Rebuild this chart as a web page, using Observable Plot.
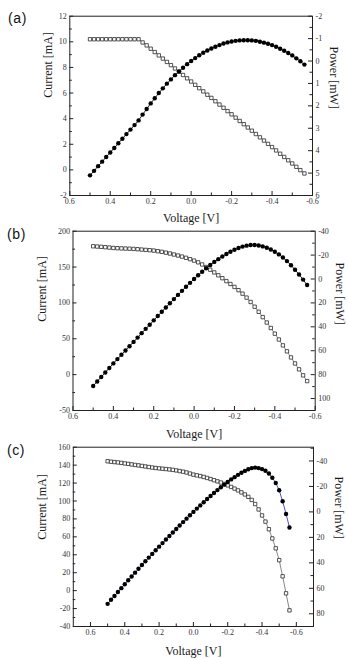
<!DOCTYPE html>
<html>
<head>
<meta charset="utf-8">
<script src="https://cdn.jsdelivr.net/npm/d3@7"></script>
<script src="https://cdn.jsdelivr.net/npm/@observablehq/plot@0.6"></script>
<style>
  body { margin: 0; background: #fff; }
  #fig { position: relative; width: 348px; height: 658px; overflow: hidden; background: #fff; }
  .panel { position: absolute; left: 0; width: 348px; overflow: visible; }
  .panel svg { position: absolute; left: 0; top: 0; overflow: visible; }
  .tag { position: absolute; font-family: "Liberation Sans", Arial, sans-serif; font-size: 14px;
         line-height: 14px; color: #111; letter-spacing: 0.6px; }
</style>
</head>
<body>
<div id="fig"></div>
<script>
// Bias voltage sweep shared by all three cells (V)
const voltage = [
  0.50, 0.48, 0.46, 0.44, 0.42, 0.40, 0.38, 0.36, 0.34, 0.32,
  0.30, 0.28, 0.26, 0.24, 0.22, 0.20, 0.18, 0.16, 0.14, 0.12,
  0.10, 0.08, 0.06, 0.04, 0.02, 0.00, -0.02, -0.04, -0.06, -0.08,
  -0.10, -0.12, -0.14, -0.16, -0.18, -0.20, -0.22, -0.24, -0.26, -0.28,
  -0.30, -0.32, -0.34, -0.36, -0.38, -0.40, -0.42, -0.44, -0.46, -0.48,
  -0.50, -0.52, -0.54, -0.56
];

// (a) current (mA) and power (mW)
const currentA = [
  10.2, 10.2, 10.2, 10.2, 10.2, 10.2, 10.2, 10.2, 10.2, 10.2,
  10.2, 10.2, 10.2, 9.95, 9.72, 9.46, 9.20, 8.94, 8.69, 8.43,
  8.18, 7.92, 7.66, 7.41, 7.15, 6.90, 6.64, 6.38, 6.13, 5.87,
  5.62, 5.36, 5.10, 4.85, 4.59, 4.34, 4.08, 3.82, 3.57, 3.31,
  3.06, 2.80, 2.54, 2.29, 2.03, 1.78, 1.52, 1.26, 1.01, 0.75,
  0.50, 0.24, -0.02, -0.28
];
const powerA = [
  5.10, 4.90, 4.69, 4.49, 4.28, 4.08, 3.88, 3.67, 3.47, 3.26,
  3.06, 2.86, 2.65, 2.39, 2.14, 1.89, 1.66, 1.43, 1.22, 1.01,
  0.82, 0.63, 0.46, 0.30, 0.14, 0.00, -0.13, -0.26, -0.37, -0.47,
  -0.56, -0.64, -0.71, -0.78, -0.83, -0.87, -0.90, -0.92, -0.93, -0.93,
  -0.92, -0.90, -0.86, -0.82, -0.77, -0.71, -0.64, -0.55, -0.46, -0.36,
  -0.25, -0.12, 0.01, 0.16
];

// (b) current (mA) and power (mW)
const currentB = [
  179.0, 178.6, 178.2, 177.7, 177.2, 176.6, 176.3, 176.0, 175.8, 175.6,
  175.3, 174.9, 174.4, 173.9, 173.5, 173.0, 172.1, 171.2, 170.1, 168.9,
  167.5, 166.1, 164.6, 162.9, 161.0, 159.0, 156.6, 153.6, 150.0, 146.3,
  142.5, 138.5, 134.5, 130.4, 126.4, 122.3, 117.8, 112.9, 107.4, 101.3,
  94.7, 87.6, 80.2, 72.7, 65.0, 57.1, 49.0, 40.8, 32.5, 24.0,
  15.6, 7.4, -1.0, -9.0
];
const powerB = [
  89.5, 85.7, 82.0, 78.2, 74.4, 70.6, 67.0, 63.4, 59.8, 56.2,
  52.6, 49.0, 45.3, 41.7, 38.2, 34.6, 31.0, 27.4, 23.8, 20.3,
  16.8, 13.3, 9.9, 6.5, 3.2, 0.0, -3.1, -6.1, -9.0, -11.7,
  -14.3, -16.6, -18.8, -20.9, -22.8, -24.5, -25.9, -27.1, -27.9, -28.4,
  -28.4, -28.0, -27.3, -26.2, -24.7, -22.8, -20.6, -18.0, -15.0, -11.5,
  -7.8, -3.8, 0.5, 5.0
];

// (c) current (mA) and power (mW)
const currentC = [
  144.3, 143.8, 143.4, 143.0, 142.5, 141.9, 141.4, 140.8, 140.2, 139.7,
  139.1, 138.5, 137.9, 137.3, 136.8, 136.4, 136.0, 135.6, 135.2, 134.7,
  134.1, 133.4, 132.7, 131.8, 130.6, 129.4, 128.6, 127.8, 126.8, 125.7,
  124.5, 123.2, 121.9, 120.6, 119.0, 117.4, 115.7, 113.8, 111.8, 109.6,
  107.3, 104.6, 101.2, 96.6, 90.6, 83.9, 77.0, 68.5, 58.2, 47.2,
  34.0, 16.0, -3.0, -22.0
];
const powerC = [
  72.2, 69.0, 66.0, 62.9, 59.9, 56.8, 53.7, 50.7, 47.7, 44.7,
  41.7, 38.8, 35.9, 33.0, 30.1, 27.3, 24.5, 21.7, 18.9, 16.2,
  13.4, 10.7, 8.0, 5.3, 2.6, 0.0, -2.6, -5.1, -7.6, -10.1,
  -12.5, -14.8, -17.1, -19.3, -21.4, -23.5, -25.5, -27.3, -29.1, -30.7,
  -32.2, -33.5, -34.4, -34.8, -34.4, -33.6, -32.3, -30.1, -26.8, -22.7,
  -17.0, -8.3, 1.6, 12.3
];

// Axis ticks and their labels
const voltTicks = [0.6, 0.4, 0.2, 0.0, -0.2, -0.4, -0.6];
const voltLabels = ["0.6", "0.4", "0.2", "0.0", "-0.2", "-0.4", "-0.6"];
const voltMinorAB = [0.5, 0.3, 0.1, -0.1, -0.3, -0.5];
const voltMinorC = [0.5, 0.3, 0.1, -0.1, -0.3, -0.5];

const curTicksA = [12, 10, 8, 6, 4, 2, 0, -2];
const curLabelsA = ["12", "10", "8", "6", "4", "2", "0", "-2"];
const curMinorA = [11, 9, 7, 5, 3, 1, -1];
const powTicksA = [-2, -1, 0, 1, 2, 3, 4, 5, 6];
const powLabelsA = ["-2", "-1", "0", "1", "2", "3", "4", "5", "6"];
const powMinorA = [-1.5, -0.5, 0.5, 1.5, 2.5, 3.5, 4.5, 5.5];

const curTicksB = [200, 150, 100, 50, 0, -50];
const curLabelsB = ["200", "150", "100", "50", "0", "-50"];
const curMinorB = [175, 125, 75, 25, -25];
const powTicksB = [-40, -20, 0, 20, 40, 60, 80, 100];
const powLabelsB = ["-40", "-20", "0", "20", "40", "60", "80", "100"];
const powMinorB = [-30, -10, 10, 30, 50, 70, 90];

const curTicksC = [160, 140, 120, 100, 80, 60, 40, 20, 0, -20, -40];
const curLabelsC = ["160", "140", "120", "100", "80", "60", "40", "20", "0", "-20", "-40"];
const curMinorC = [150, 130, 110, 90, 70, 50, 30, 10, -10, -30];
const powTicksC = [-40, -20, 0, 20, 40, 60, 80];
const powLabelsC = ["-40", "-20", "0", "20", "40", "60", "80"];
const powMinorC = [-50, -30, -10, 10, 30, 50, 70];

const panels = [
  {tag: "(a)", tagLeft: 8, tagTop: 11, top: 0, height: 215,
   mL: 69.3, mR: 36, mT: 15.7, mB: 20,
   xDomain: [0.6, -0.6], xMinor: voltMinorAB,
   iDomain: [-2, 12], pDomain: [-2, 6],
   current: currentA, power: powerA,
   iTicks: curTicksA, iLabels: curLabelsA, iMinor: curMinorA,
   pTicks: powTicksA, pLabels: powLabelsA, pMinor: powMinorA,
   xTitleDy: 22.5, iTitleDx: -21.3, iTitleDy: -8, pTitleDx: 21, pTitleDy: 3,
   pLine: "#111"},
  {tag: "(b)", tagLeft: 7, tagTop: 226.5, top: 215, height: 215,
   mL: 72.5, mR: 33.3, mT: 15.7, mB: 20,
   xDomain: [0.6, -0.6], xMinor: voltMinorAB,
   iDomain: [-50, 200], pDomain: [-40, 110],
   current: currentB, power: powerB,
   iTicks: curTicksB, iLabels: curLabelsB, iMinor: curMinorB,
   pTicks: powTicksB, pLabels: powLabelsB, pMinor: powMinorB,
   xTitleDy: 23.5, iTitleDx: -31, iTitleDy: 1, pTitleDx: 25, pTitleDy: 4,
   pLine: "#111"},
  {tag: "(c)", tagLeft: 7, tagTop: 442.5, top: 430, height: 228,
   mL: 72.8, mR: 35, mT: 16.7, mB: 32,
   xDomain: [0.7, -0.7], xMinor: voltMinorC,
   iDomain: [-40, 160], pDomain: [-50.8, 90],
   current: currentC, power: powerC,
   iTicks: curTicksC, iLabels: curLabelsC, iMinor: curMinorC,
   pTicks: powTicksC, pLabels: powLabelsC, pMinor: powMinorC,
   xTitleDy: 24.5, iTitleDx: -31, iTitleDy: 3, pTitleDx: 25, pTitleDy: 2,
   pLine: "#3c3cc8"}
];

const serif = "'Liberation Serif', 'Times New Roman', serif";
const fig = document.getElementById("fig");

function labeler(ticks, labels) {
  return d => labels[ticks.indexOf(d)];
}

for (const c of panels) {
  const rows = voltage.map((v, k) => ({v, i: c.current[k], p: c.power[k]}));
  const fw = 348 - c.mL - c.mR;
  const fh = c.height - c.mT - c.mB;
  const base = {
    width: 348, height: c.height,
    marginLeft: c.mL, marginRight: c.mR, marginTop: c.mT, marginBottom: c.mB,
    style: {background: "transparent", fontFamily: serif, fontSize: "8px", color: "#333", overflow: "visible"}
  };
  const titleStyle = {fontFamily: serif, fontSize: 12, fill: "#1a1a1a", lineAnchor: "middle", text: d => d};

  // Current against the left axis, with the voltage axis
  const currentPlot = Plot.plot({
    ...base,
    x: {domain: c.xDomain, axis: null},
    y: {domain: c.iDomain, axis: null},
    marks: [
      Plot.line(rows, {x: "v", y: "i", stroke: "#555", strokeWidth: 0.7}),
      Plot.dot(rows, {x: "v", y: "i", symbol: "square", r: 1.9, fill: "white", stroke: "#2a2a2a", strokeWidth: 0.8}),
      Plot.tickX(voltTicks, {x: d => d, insetTop: fh - 4, stroke: "#222"}),
      Plot.tickX(c.xMinor, {x: d => d, insetTop: fh - 2.5, stroke: "#222"}),
      Plot.tickY(c.iTicks, {y: d => d, insetRight: fw - 4, stroke: "#222"}),
      Plot.tickY(c.iMinor, {y: d => d, insetRight: fw - 2.5, stroke: "#222"}),
      Plot.axisX(voltTicks, {tickSize: 0, tickPadding: 3, tickFormat: labeler(voltTicks, voltLabels), label: null}),
      Plot.axisY(c.iTicks, {anchor: "left", tickSize: 0, tickPadding: 3, tickFormat: labeler(c.iTicks, c.iLabels), label: null}),
      Plot.frame({stroke: "#222"}),
      Plot.text(["Voltage [V]"], {...titleStyle, frameAnchor: "bottom", dy: c.xTitleDy}),
      Plot.text(["Current [mA]"], {...titleStyle, frameAnchor: "left", rotate: -90, dx: c.iTitleDx, dy: c.iTitleDy})
    ]
  });

  // Power against the reversed right axis
  const powerPlot = Plot.plot({
    ...base,
    x: {domain: c.xDomain, axis: null},
    y: {domain: c.pDomain, reverse: true, axis: null},
    marks: [
      Plot.line(rows, {x: "v", y: "p", stroke: c.pLine, strokeWidth: 0.9}),
      Plot.dot(rows, {x: "v", y: "p", r: 2.2, fill: "#000"}),
      Plot.tickY(c.pTicks, {y: d => d, insetLeft: fw - 4, stroke: "#222"}),
      Plot.tickY(c.pMinor, {y: d => d, insetLeft: fw - 2.5, stroke: "#222"}),
      Plot.axisY(c.pTicks, {anchor: "right", tickSize: 0, tickPadding: 3, tickFormat: labeler(c.pTicks, c.pLabels), label: null}),
      Plot.text(["Power [mW]"], {...titleStyle, frameAnchor: "right", rotate: 90, dx: c.pTitleDx, dy: c.pTitleDy})
    ]
  });

  const panel = document.createElement("div");
  panel.className = "panel";
  panel.style.top = c.top + "px";
  panel.style.height = c.height + "px";
  panel.append(currentPlot, powerPlot);
  fig.append(panel);

  const tag = document.createElement("div");
  tag.className = "tag";
  tag.textContent = c.tag;
  tag.style.left = c.tagLeft + "px";
  tag.style.top = c.tagTop + "px";
  fig.append(tag);
}
</script>
</body>
</html>
